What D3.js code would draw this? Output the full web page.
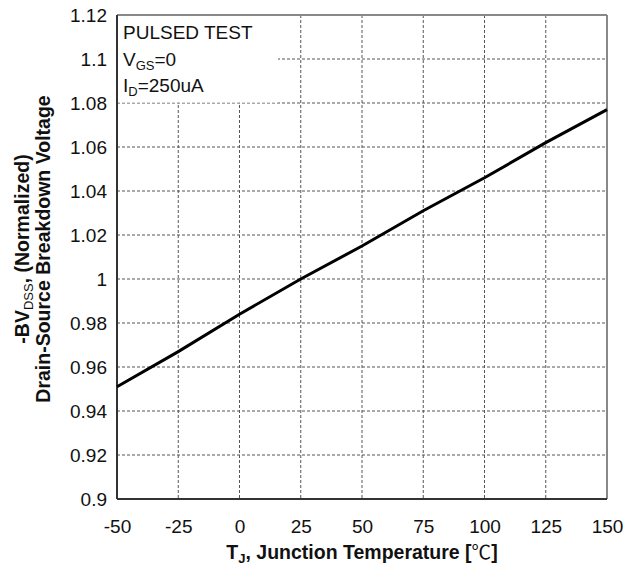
<!DOCTYPE html>
<html><head><meta charset="utf-8">
<script src="https://cdn.jsdelivr.net/npm/d3@7"></script>
<style>body{margin:0;background:#fff}svg{display:block}text{font-family:"Liberation Sans",Arial,sans-serif}</style>
</head><body><div id="chart"></div>
<script>
const temps = [-50, -25, 0, 25, 50, 75, 100, 125, 150];
const bvdss = [0.951, 0.967, 0.984, 1.000, 1.015, 1.031, 1.046, 1.062, 1.077];
const xTicks = [-50, -25, 0, 25, 50, 75, 100, 125, 150];
const yTicks = [0.9, 0.92, 0.94, 0.96, 0.98, 1.0, 1.02, 1.04, 1.06, 1.08, 1.1, 1.12];

const W = 626, H = 569;
const m = {left: 117, top: 15, right: 607, bottom: 499};
const svg = d3.select("#chart").append("svg").attr("width", W).attr("height", H);
const x = d3.scaleLinear().domain([-50, 150]).range([m.left, m.right]);
const y = d3.scaleLinear().domain([0.9, 1.12]).range([m.bottom, m.top]);

// grid
const g = svg.append("g");
g.selectAll(".vg").data(xTicks.slice(1, -1)).enter().append("line")
  .attr("x1", d => x(d)).attr("x2", d => x(d)).attr("y1", m.top).attr("y2", m.bottom)
  .attr("stroke", "#555").attr("stroke-width", 1).attr("stroke-dasharray", "3,2");
g.selectAll(".hg").data(yTicks.slice(1, -1)).enter().append("line")
  .attr("x1", m.left).attr("x2", m.right).attr("y1", d => y(d)).attr("y2", d => y(d))
  .attr("stroke", "#555").attr("stroke-width", 1).attr("stroke-dasharray", "3,2");

// legend box (covers grid)
svg.append("rect").attr("x", m.left + 1).attr("y", m.top + 1)
  .attr("width", 160).attr("height", y(1.08) - m.top - 1.5).attr("fill", "#fff");

// axes via d3 (labels only)
const xAxis = svg.append("g").attr("transform", `translate(0,${m.bottom})`)
  .call(d3.axisBottom(x).tickValues(xTicks).tickSize(0).tickPadding(21).tickFormat(d => String(d)));
xAxis.select(".domain").remove();
xAxis.selectAll("text").attr("font-size", 19).attr("fill", "#111")
  .attr("font-family", "Liberation Sans, Arial, sans-serif");
const yAxis = svg.append("g").attr("transform", `translate(${m.left},0)`)
  .call(d3.axisLeft(y).tickValues(yTicks).tickSize(0).tickPadding(10).tickFormat(d => String(+d.toFixed(2))));
yAxis.select(".domain").remove();
yAxis.selectAll("text").attr("font-size", 19).attr("fill", "#111")
  .attr("font-family", "Liberation Sans, Arial, sans-serif");

// frame
svg.append("line").attr("x1", m.left).attr("x2", m.right).attr("y1", m.top).attr("y2", m.top).attr("stroke", "#888").attr("stroke-width", 2);
svg.append("line").attr("x1", m.right).attr("x2", m.right).attr("y1", m.top).attr("y2", m.bottom).attr("stroke", "#888").attr("stroke-width", 2);
svg.append("line").attr("x1", m.left).attr("x2", m.left).attr("y1", m.top).attr("y2", m.bottom).attr("stroke", "#333").attr("stroke-width", 2);
svg.append("line").attr("x1", m.left).attr("x2", m.right).attr("y1", m.bottom).attr("y2", m.bottom).attr("stroke", "#333").attr("stroke-width", 2);

// data line
svg.append("path").datum(temps.map((t, i) => [t, bvdss[i]]))
  .attr("d", d3.line().x(d => x(d[0])).y(d => y(d[1])))
  .attr("fill", "none").attr("stroke", "#000").attr("stroke-width", 3);

// legend text
const lg = svg.append("g").attr("font-size", 19).attr("fill", "#111");
lg.append("text").attr("x", 123).attr("y", 39).text("PULSED TEST");
const t2 = lg.append("text").attr("x", 123).attr("y", 66);
t2.append("tspan").text("V");
t2.append("tspan").attr("font-size", 13).attr("dy", 4).text("GS");
t2.append("tspan").attr("dy", -4).text("=0");
const t3 = lg.append("text").attr("x", 123).attr("y", 92);
t3.append("tspan").text("I");
t3.append("tspan").attr("font-size", 13).attr("dy", 4).text("D");
t3.append("tspan").attr("dy", -4).text("=250uA");

// x title
const xt = svg.append("text").attr("x", (m.left + m.right) / 2).attr("y", 559)
  .attr("text-anchor", "middle").attr("font-size", 19.5).attr("font-weight", "bold").attr("fill", "#111");
xt.append("tspan").text("T");
xt.append("tspan").attr("font-size", 13).attr("dy", 4).text("J");
xt.append("tspan").attr("dy", -4).text(", Junction Temperature [");
xt.append("tspan").attr("font-family", "Noto Sans CJK SC").attr("font-weight", "normal").text("℃");
xt.append("tspan").text("]");

// y title
const yt1 = svg.append("text").attr("transform", "translate(29,249) rotate(-90)")
  .attr("text-anchor", "middle").attr("font-size", 19.5).attr("font-weight", "bold").attr("fill", "#111");
yt1.append("tspan").text("-BV");
yt1.append("tspan").attr("font-size", 13).attr("dy", 4).attr("font-weight", "normal").text("DSS");
yt1.append("tspan").attr("dy", -4).text(", (Normalized)");
svg.append("text").attr("transform", "translate(50,249) rotate(-90)")
  .attr("text-anchor", "middle").attr("font-size", 19.5).attr("font-weight", "bold").attr("fill", "#111")
  .text("Drain-Source Breakdown Voltage");
</script></body></html>
